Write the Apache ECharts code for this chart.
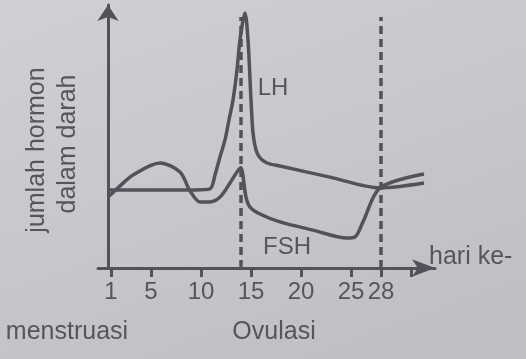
<!DOCTYPE html>
<html>
<head>
<meta charset="utf-8">
<script src="https://cdn.jsdelivr.net/npm/echarts@6/dist/echarts.min.js"></script>
<style>
html,body{margin:0;padding:0;}
#c{width:526px;height:359px;background:linear-gradient(160deg,#d0d0d4 0%,#c6c6ca 55%,#bdbdc2 100%);}
</style>
</head>
<body>
<div id="c"></div>
<script>
// Day of cycle (x) and relative hormone level (y, 0-100)
const lhDays   = [0.7, 4.9, 9.4, 10.9, 11.4, 11.9, 12.4, 12.8, 13.2, 13.6, 13.9, 14.4, 14.7, 15.0, 15.2, 15.5, 15.9, 16.6, 17.9, 22.9, 27.9, 32.3];
const lhValues = [30.5, 30.5, 30.5, 30.9, 36.3, 43.4, 50.0, 57.8, 65.6, 77.3, 89.1, 99.6, 89.1, 65.6, 52.7, 46.1, 43.0, 41.0, 39.8, 35.5, 31.3, 33.2];

const fshDays   = [0.7, 1.7, 3.2, 5.9, 7.9, 8.9, 9.9, 10.9, 11.9, 12.9, 13.6, 14.0, 14.2, 14.5, 14.9, 15.9, 17.9, 21.2, 24.6, 25.4, 26.2, 27.9, 32.3];
const fshValues = [27.7, 31.3, 36.3, 41.0, 37.5, 30.1, 25.8, 25.8, 27.7, 33.2, 37.5, 39.1, 35.9, 27.7, 23.8, 21.1, 18.0, 14.8, 11.7, 12.1, 18.0, 31.3, 36.7];

const tickDays  = [1, 5, 10, 15, 20, 25, 28, 31];
const labelDays = [1, 5, 10, 15, 20, 25, 28];
const markerDays = [14, 28];

const INK = '#52525b';
const TXT = '#55555c';
const FONT = 'Liberation Sans, Arial, sans-serif';

const chart = echarts.init(document.getElementById('c'), null, {renderer: 'canvas'});

const pairs = (xs, ys) => xs.map((x, i) => [x, ys[i]]);

chart.setOption({
  backgroundColor: 'transparent',
  animation: false,
  grid: {left: 98, right: 91, top: 5, bottom: 91},
  xAxis: {
    type: 'value', min: -0.3, max: 33.4,
    splitLine: {show: false},
    axisLine: {show: true, symbol: ['none', 'arrow'], symbolSize: [13, 23],
      lineStyle: {color: INK, width: 3}},
    axisTick: {show: true, customValues: tickDays, length: 9, inside: false,
      lineStyle: {color: INK, width: 3}},
    axisLabel: {show: true, customValues: labelDays, fontSize: 24, color: TXT,
      fontFamily: FONT, margin: 12}
  },
  yAxis: {
    type: 'value', min: 0, max: 102.7, offset: -10,
    splitLine: {show: false},
    axisLine: {show: true, symbol: ['none', 'arrow'], symbolSize: [16, 16],
      lineStyle: {color: INK, width: 3}},
    axisTick: {show: false},
    axisLabel: {show: false}
  },
  series: [
    {
      name: 'LH', type: 'line', smooth: 0.3, showSymbol: false,
      lineStyle: {color: INK, width: 3.5},
      data: pairs(lhDays, lhValues),
      markLine: {
        silent: true, symbol: 'none', label: {show: false},
        lineStyle: {color: INK, width: 3.5, type: [8, 5]},
        data: markerDays.map(d => [{coord: [d, 0]}, {coord: [d, 98]}])
      }
    },
    {
      name: 'FSH', type: 'line', smooth: 0.3, showSymbol: false,
      lineStyle: {color: INK, width: 3.5},
      data: pairs(fshDays, fshValues)
    }
  ],
  graphic: [
    {type: 'text', x: 37, y: 150, rotation: Math.PI / 2,
      style: {text: 'jumlah hormon', font: '25px ' + FONT, fill: TXT, align: 'center', verticalAlign: 'middle'}},
    {type: 'text', x: 68, y: 144, rotation: Math.PI / 2,
      style: {text: 'dalam darah', font: '25px ' + FONT, fill: TXT, align: 'center', verticalAlign: 'middle'}},
    {type: 'text', x: 273, y: 88,
      style: {text: 'LH', font: '24px ' + FONT, fill: TXT, align: 'center', verticalAlign: 'middle'}},
    {type: 'text', x: 287, y: 247,
      style: {text: 'FSH', font: '24px ' + FONT, fill: TXT, align: 'center', verticalAlign: 'middle'}},
    {type: 'text', x: 429, y: 257,
      style: {text: 'hari ke-', font: '25px ' + FONT, fill: TXT, align: 'left', verticalAlign: 'middle'}},
    {type: 'text', x: 67, y: 332,
      style: {text: 'menstruasi', font: '25px ' + FONT, fill: TXT, align: 'center', verticalAlign: 'middle'}},
    {type: 'text', x: 274, y: 332,
      style: {text: 'Ovulasi', font: '25px ' + FONT, fill: TXT, align: 'center', verticalAlign: 'middle'}}
  ]
});
</script>
</body>
</html>
